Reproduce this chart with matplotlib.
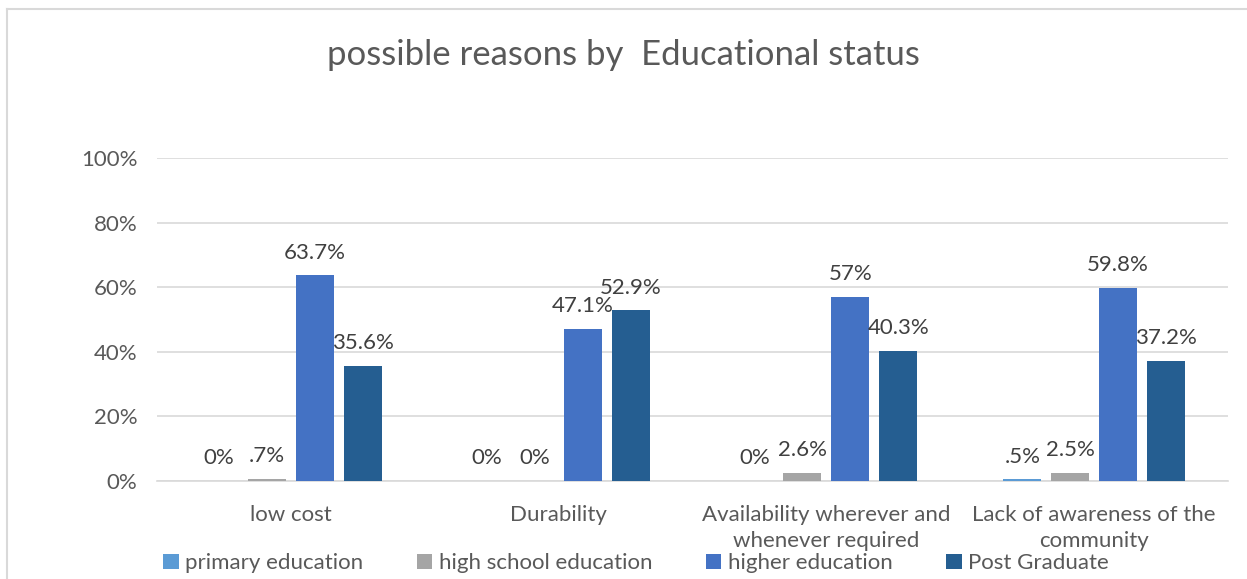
import numpy as np
import matplotlib.pyplot as plt
from matplotlib.lines import Line2D

categories = ["low cost", "Durability", "Availability wherever and\nwhenever required",
              "Lack of awareness of the\ncommunity"]
groups = ["primary education", "high school education", "higher education", "Post Graduate"]
primary = [0.0, 0.0, 0.0, 0.5]
high_school = [0.7, 0.0, 2.6, 2.5]
higher = [63.7, 47.1, 57.0, 59.8]
post_grad = [35.6, 52.9, 40.3, 37.2]
colors = ["#5B9BD5", "#A5A5A5", "#4472C4", "#255E91"]

plt.rcParams['font.family'] = ['Lato', 'DejaVu Sans']
txt = "#595959"

fig = plt.figure(figsize=(12.47, 5.79), dpi=100)
ax = fig.add_axes([0.1259, 0.1693, 0.8589, 0.5578])

x = np.arange(len(categories))
width = 0.142
step = 0.179
series = [primary, high_school, higher, post_grad]
handles = []
for i, (vals, name, col) in enumerate(zip(series, groups, colors)):
    pos = x + (i - 1.5) * step
    bars = ax.bar(pos, vals, width, color=col, label=name, zorder=3)
    handles.append(bars)
    for p, v in zip(pos, vals):
        if v == 0:
            lab = "0%"
        elif v < 1:
            lab = ("%g%%" % v).lstrip("0")
        else:
            lab = "%g%%" % v
        ax.annotate(lab, (p, v), xytext=(0, 9), textcoords="offset points",
                    ha="center", va="bottom", fontsize=16, color="#404040")

ax.set_ylim(0, 100)
ax.set_xlim(-0.5, len(categories) - 0.5)
ax.set_yticks(range(0, 101, 20))
ax.set_yticklabels([f"{t}%" for t in range(0, 101, 20)])
ax.set_xticks(x)
ax.set_xticklabels(categories, linespacing=1.4)
ax.tick_params(axis="both", length=0, labelsize=16, labelcolor=txt)
ax.tick_params(axis="y", pad=14)
ax.tick_params(axis="x", pad=17)
ax.grid(axis="y", color="#D9D9D9", linewidth=1.2, zorder=0)
for s in ["top", "right", "left"]:
    ax.spines[s].set_visible(False)
ax.spines["bottom"].set_color("#D9D9D9")
ax.spines["bottom"].set_linewidth(1.2)

fig.text(0.5, 0.905, "possible reasons by  Educational status", ha="center", va="center",
         fontsize=25, color=txt)

fig.legend(handles=handles, loc="center", bbox_to_anchor=(0.51, 0.027), ncol=4,
           frameon=False, fontsize=16, handlelength=0.7, handleheight=0.7,
           handletextpad=0.3, columnspacing=2.4, labelcolor=txt)

# chart area border (top and left edges)
W, H = 1247, 579
fig.add_artist(Line2D([7 / W, 1], [1 - 9 / H, 1 - 9 / H], color="#D9D9D9", lw=1.5))
fig.add_artist(Line2D([7 / W, 7 / W], [0, 1 - 9 / H], color="#D9D9D9", lw=1.5))

fig.savefig("out.png", dpi=100, facecolor="white")
